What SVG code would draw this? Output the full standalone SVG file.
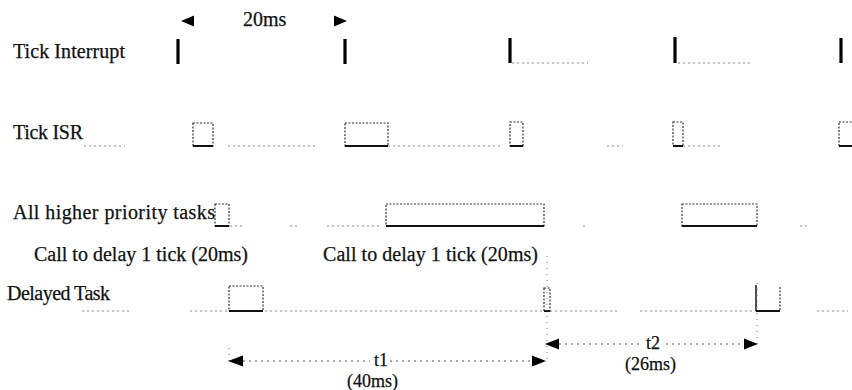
<svg xmlns="http://www.w3.org/2000/svg" width="852" height="390" viewBox="0 0 852 390">
<defs>
<style>
text { font-family: "Liberation Serif", "Times New Roman", serif; font-size: 20px; fill: #111; stroke: #111; stroke-width: 0.25; }
.small { font-size: 18px; }
.tick { stroke: #000; stroke-width: 3.2; }
.base { stroke: #8a8a8a; stroke-width: 1; stroke-dasharray: 2 3; fill: none; }
.box { fill: none; stroke: #333; stroke-width: 1.2; stroke-dasharray: 2 1.5; }
.bottom { stroke: #111; stroke-width: 2; }
.solid { stroke: #222; stroke-width: 1.6; }
.aline { stroke: #555; stroke-width: 1; stroke-dasharray: 2 4; }
.head { fill: #000; }
.guide { stroke: #777; stroke-width: 1; stroke-dasharray: 1 5; }
</style>
</defs>
<rect width="852" height="390" fill="#fff"/>

<g id="label-tick-interrupt"><text x="13" y="58" textLength="112" lengthAdjust="spacing">Tick Interrupt</text></g>
<g id="label-tick-isr"><text x="13" y="139" textLength="70" lengthAdjust="spacing">Tick ISR</text></g>
<g id="label-higher-tasks"><text x="13" y="219" textLength="202" lengthAdjust="spacing">All higher priority tasks</text></g>
<g id="label-call-1"><text x="34" y="261" textLength="214" lengthAdjust="spacing">Call to delay 1 tick (20ms)</text></g>
<g id="label-call-2"><text x="323" y="261" textLength="215" lengthAdjust="spacing">Call to delay 1 tick (20ms)</text></g>
<g id="label-delayed-task"><text x="7" y="300" textLength="103" lengthAdjust="spacing">Delayed Task</text></g>

<g id="baselines">
  <line class="base" x1="512" y1="63" x2="588" y2="63"/>
  <line class="base" x1="678" y1="63" x2="752" y2="63"/>
  <line class="base" x1="84" y1="146" x2="125" y2="146"/>
  <line class="base" x1="228" y1="146" x2="315" y2="146"/>
  <line class="base" x1="388" y1="146" x2="500" y2="146"/>
  <line class="base" x1="607" y1="146" x2="623" y2="146"/>
  <line class="base" x1="683" y1="146" x2="720" y2="146"/>
  <line class="base" x1="230" y1="226" x2="245" y2="226"/>
  <line class="base" x1="290" y1="226" x2="300" y2="226"/>
  <line class="base" x1="327" y1="226" x2="380" y2="226"/>
  <line class="base" x1="583" y1="226" x2="588" y2="226"/>
  <line class="base" x1="800" y1="226" x2="810" y2="226"/>
  <line class="base" x1="82" y1="311" x2="130" y2="311"/>
  <line class="base" x1="190" y1="311" x2="620" y2="311"/>
  <line class="base" x1="640" y1="311" x2="756" y2="311"/>
  <line class="base" x1="817" y1="311" x2="848" y2="311"/>
</g>

<g id="tick-interrupts">
  <line class="tick" x1="178" y1="39" x2="178" y2="64"/>
  <line class="tick" x1="345" y1="39" x2="345" y2="64"/>
  <line class="tick" x1="510" y1="38" x2="510" y2="63"/>
  <line class="tick" x1="675" y1="37" x2="675" y2="63"/>
  <line class="tick" x1="841" y1="38" x2="841" y2="63"/>
</g>

<g id="isr-1"><rect class="box" x="193" y="123" width="20" height="23"/><line class="bottom" x1="193" y1="146" x2="213" y2="146"/></g>
<g id="isr-2"><rect class="box" x="345" y="123" width="43" height="23"/><line class="bottom" x1="345" y1="146" x2="388" y2="146"/></g>
<g id="isr-3"><rect class="box" x="510" y="122" width="13" height="24"/><line class="bottom" x1="510" y1="146" x2="523" y2="146"/></g>
<g id="isr-4"><rect class="box" x="673" y="122" width="10" height="24"/><line class="bottom" x1="673" y1="146" x2="683" y2="146"/></g>
<g id="isr-5"><rect class="box" x="839" y="122" width="16" height="24"/><line class="bottom" x1="839" y1="146" x2="852" y2="146"/></g>

<g id="hp-1"><rect class="box" x="215" y="204" width="14" height="22"/><line class="bottom" x1="215" y1="226" x2="229" y2="226"/></g>
<g id="hp-2"><rect class="box" x="386" y="204" width="158" height="22"/><line class="bottom" x1="386" y1="226" x2="544" y2="226"/></g>
<g id="hp-3"><rect class="box" x="682" y="204" width="75" height="22"/><line class="bottom" x1="682" y1="226" x2="757" y2="226"/></g>

<g id="dt-1"><rect class="box" x="229" y="286" width="34" height="25"/><line class="bottom" x1="229" y1="311" x2="263" y2="311"/></g>
<g id="dt-2"><rect class="box" x="544" y="288" width="6" height="23"/><line class="bottom" x1="544" y1="311" x2="550" y2="311"/></g>
<g id="dt-3"><line class="solid" x1="756" y1="285" x2="756" y2="311"/><line class="box" x1="780" y1="287" x2="780" y2="311"/><line class="bottom" x1="756" y1="311" x2="780" y2="311"/></g>

<g id="connectors">
  <polygon class="head" points="181,21 194,15.5 194,26.5"/>
  <polygon class="head" points="347,21 334,15.5 334,26.5"/>
  <line class="guide" x1="547" y1="256" x2="547" y2="364"/>
  <line class="guide" x1="757" y1="283" x2="757" y2="346"/>
  <line class="guide" x1="229" y1="348" x2="229" y2="362"/>
  <line class="aline" x1="243" y1="361" x2="370" y2="361"/>
  <line class="aline" x1="390" y1="361" x2="532" y2="361"/>
  <polygon class="head" points="228,361 243,355.5 243,366.5"/>
  <polygon class="head" points="546,361 532,355.5 532,366.5"/>
  <line class="aline" x1="559" y1="344" x2="640" y2="344"/>
  <line class="aline" x1="666" y1="344" x2="744" y2="344"/>
  <polygon class="head" points="545,344 559,338.5 559,349.5"/>
  <polygon class="head" points="758,344 744,338.5 744,349.5"/>
</g>

<g id="label-20ms"><text x="243" y="26">20ms</text></g>
<g id="label-t1"><text class="small" x="374" y="366">t1</text><text class="small" x="347" y="387">(40ms)</text></g>
<g id="label-t2"><text class="small" x="646" y="349">t2</text><text class="small" x="625" y="370">(26ms)</text></g>
</svg>
